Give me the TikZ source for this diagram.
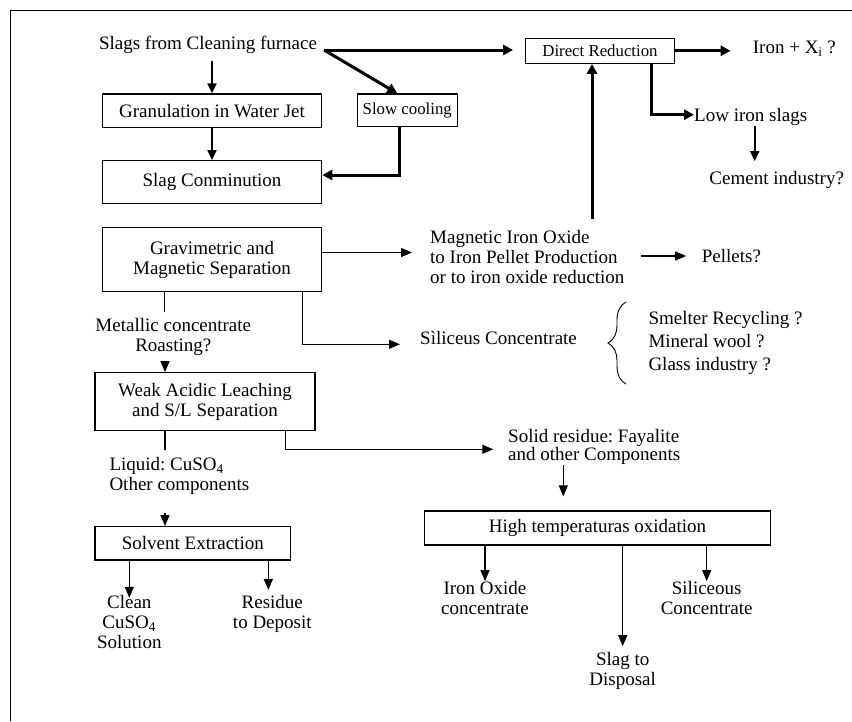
\documentclass[tikz,border=0pt]{standalone}
\usepackage{fontspec}
\setmainfont{Liberation Serif}
\usetikzlibrary{arrows.meta,calc,decorations.pathreplacing}
\newcommand\mainfs{\fontsize{19}{20}\selectfont\frenchspacing}
\newcommand\smallfs{\fontsize{16.8}{18}\selectfont\frenchspacing}
\newcommand\listfs{\fontsize{19}{23}\selectfont\frenchspacing}
\newcommand\solidfs{\fontsize{19}{18}\selectfont\frenchspacing}
\begin{document}
\begin{tikzpicture}[x=1pt,y=-1pt,
  box/.style={draw,line width=1.2pt,inner sep=0pt,font=\mainfs,align=center},
  lbl/.style={inner sep=0pt,font=\mainfs},
  thn/.style={line width=1.3pt,-{Triangle[length=11pt,width=9pt]}},
  thnline/.style={line width=1.3pt},
  med/.style={line width=1.9pt,-{Triangle[length=10pt,width=9pt]}},
  thk/.style={line width=3pt,-{Triangle[length=10pt,width=10pt]}}]
\useasboundingbox (0,0) rectangle (852,721);
% outer frame
\draw[line width=1pt] (10,721) -- (10,10) -- (852,10);

% boxes
\node[box,minimum width=219.4pt,minimum height=33.7pt] (gran) at (212,110.8) {Granulation in Water Jet};
\node[box,font=\smallfs,minimum width=100pt,minimum height=32.7pt] (slow) at (407.3,110.3) {Slow cooling};
\node[box,minimum width=219.4pt,minimum height=42.6pt] (conm) at (212,182) {Slag Conminution};
\node[box,font=\smallfs,minimum width=148.6pt,minimum height=25pt] (direct) at (600,50.8) {Direct Reduction};
\node[box,minimum width=219.4pt,minimum height=64.4pt] (grav) at (212,259.5) {Gravimetric and\\Magnetic Separation};
\node[box,minimum width=220pt,minimum height=58pt] (weak) at (205,401.7) {Weak Acidic Leaching\\and S/L Separation};
\node[box,minimum width=195.7pt,minimum height=33.3pt] (solv) at (192.8,543.3) {Solvent Extraction};
\node[box,minimum width=346.4pt,minimum height=34pt] (high) at (597.5,528) {High temperaturas oxidation};

% labels
\node[lbl] (slags) at (208,45) {Slags from Cleaning furnace};
\node[lbl,anchor=west] (iron) at (752.7,49) {Iron + X\textsubscript{i} ?};
\node[lbl,anchor=west] (low) at (694,116.7) {Low iron slags};
\node[lbl] (cement) at (776.7,180) {Cement industry?};
\node[lbl,anchor=west,align=left] (mag) at (430,257) {Magnetic Iron Oxide\\to Iron Pellet Production\\or to iron oxide reduction};
\node[lbl,anchor=west] (pellets) at (701.7,256) {Pellets?};
\node[lbl,align=center] (metal) at (173.3,337) {Metallic concentrate\\Roasting?};
\node[lbl,anchor=west] (sil) at (420,338.3) {Sìliceus Concentrate};
\node[lbl,anchor=west,align=left,font=\listfs] (uses) at (648.3,343) {Smelter Recycling ?\\Mineral wool ?\\Glass industry ?};
\node[lbl,anchor=west,align=left,font=\solidfs] (solid) at (508,446.7) {Solid residue: Fayalite\\and other Components};
\node[lbl,anchor=west,align=left] (liquid) at (109.3,476) {Liquid: CuSO\textsubscript{4}\\Other components};
\node[lbl,align=center] (clean) at (129.3,621.7) {Clean\\CuSO\textsubscript{4}\\Solution};
\node[lbl,align=center] (residue) at (272.3,613.8) {Residue\\to Deposit};
\node[lbl,align=center] (ironox) at (485,598) {Iron Oxide\\concentrate};
\node[lbl,align=center] (silic) at (706.7,598) {Siliceous\\Concentrate};
\node[lbl,align=center] (slagd) at (622.7,671) {Slag to\\Disposal};

% brace
\draw[line width=0.9pt,decorate,decoration={brace,amplitude=18pt}] (626,384) -- (626,302);

% connectors
\coordinate (s0) at ($(slags.east)+(7,5)$);
\draw[med] ($(slags.south -| gran.north)+(0,7)$) -- (gran.north);
\draw[thk,shorten >=12pt] (s0) -- (s0 -| direct.west);
\draw[thk] (s0) -- ($(slow.north)+(-10,0)$);
\draw[med] (gran.south) -- (conm.north);
\draw[thk] ($(slow.south)+(-8,0)$) |- ($(conm.east)+(0,-7)$);
\draw[thk,shorten >=22pt] (direct.east) -- (direct.east -| iron.west);
\draw[thk] ($(direct.south)+(51.7,0)$) |- ($(low.west)+(0,-2)$);
\coordinate (lc) at ($(low.south)+(4,0)$);
\draw[med,shorten >=10pt] (lc) -- (lc |- cement.north);
\draw[thk] ($(mag.north -| direct.south)+(-8,-11)$) -- ($(direct.south)+(-8,0)$);
\coordinate (g1) at ($(grav.east)+(0,-7)$);
\draw[thn,shorten >=18pt] (g1) -- (g1 -| mag.west);
\draw[thn,shorten <=16pt,shorten >=15.5pt] (mag.east |- pellets.west) -- (pellets.west);
\draw[thnline] ($(grav.south)+(-47.7,0)$) -- ++(0,20);
\coordinate (w1) at ($(weak.north)+(-40,0)$);
\draw[thn] ($(w1 |- metal.south)+(0,7)$) -- (w1);
\draw[thn,shorten >=20pt] ($(grav.south)+(90.7,0)$) |- ($(sil.west)+(0,6)$);
\draw[thnline] ($(weak.south)+(-40,0)$) -- ++(0,18.6);
\draw[thn,shorten >=14.7pt] ($(weak.south)+(80.7,0)$) |- ($(solid.west)+(0,2.6)$);
\coordinate (s1) at ($(solv.north)+(-27.8,0)$);
\draw[thn] ($(s1 |- liquid.south)+(0,18)$) -- (s1);
\draw[thn,shorten >=-3pt] (solv.south -| clean.north) -- (clean.north);
\draw[thn] ($(solv.south)+(75.5,0)$) -- ($(residue.north)+(-4,-5)$);
\coordinate (h1) at ($(high.north)+(-34.2,0)$);
\draw[thn,shorten >=14pt] (h1 |- solid.south) -- (h1);
\draw[thn] (high.south -| ironox.north) -- (ironox.north);
\draw[thn] (high.south -| silic.north) -- (silic.north);
\draw[thn,shorten >=6pt] (high.south -| slagd.north) -- (slagd.north);
\end{tikzpicture}
\end{document}
